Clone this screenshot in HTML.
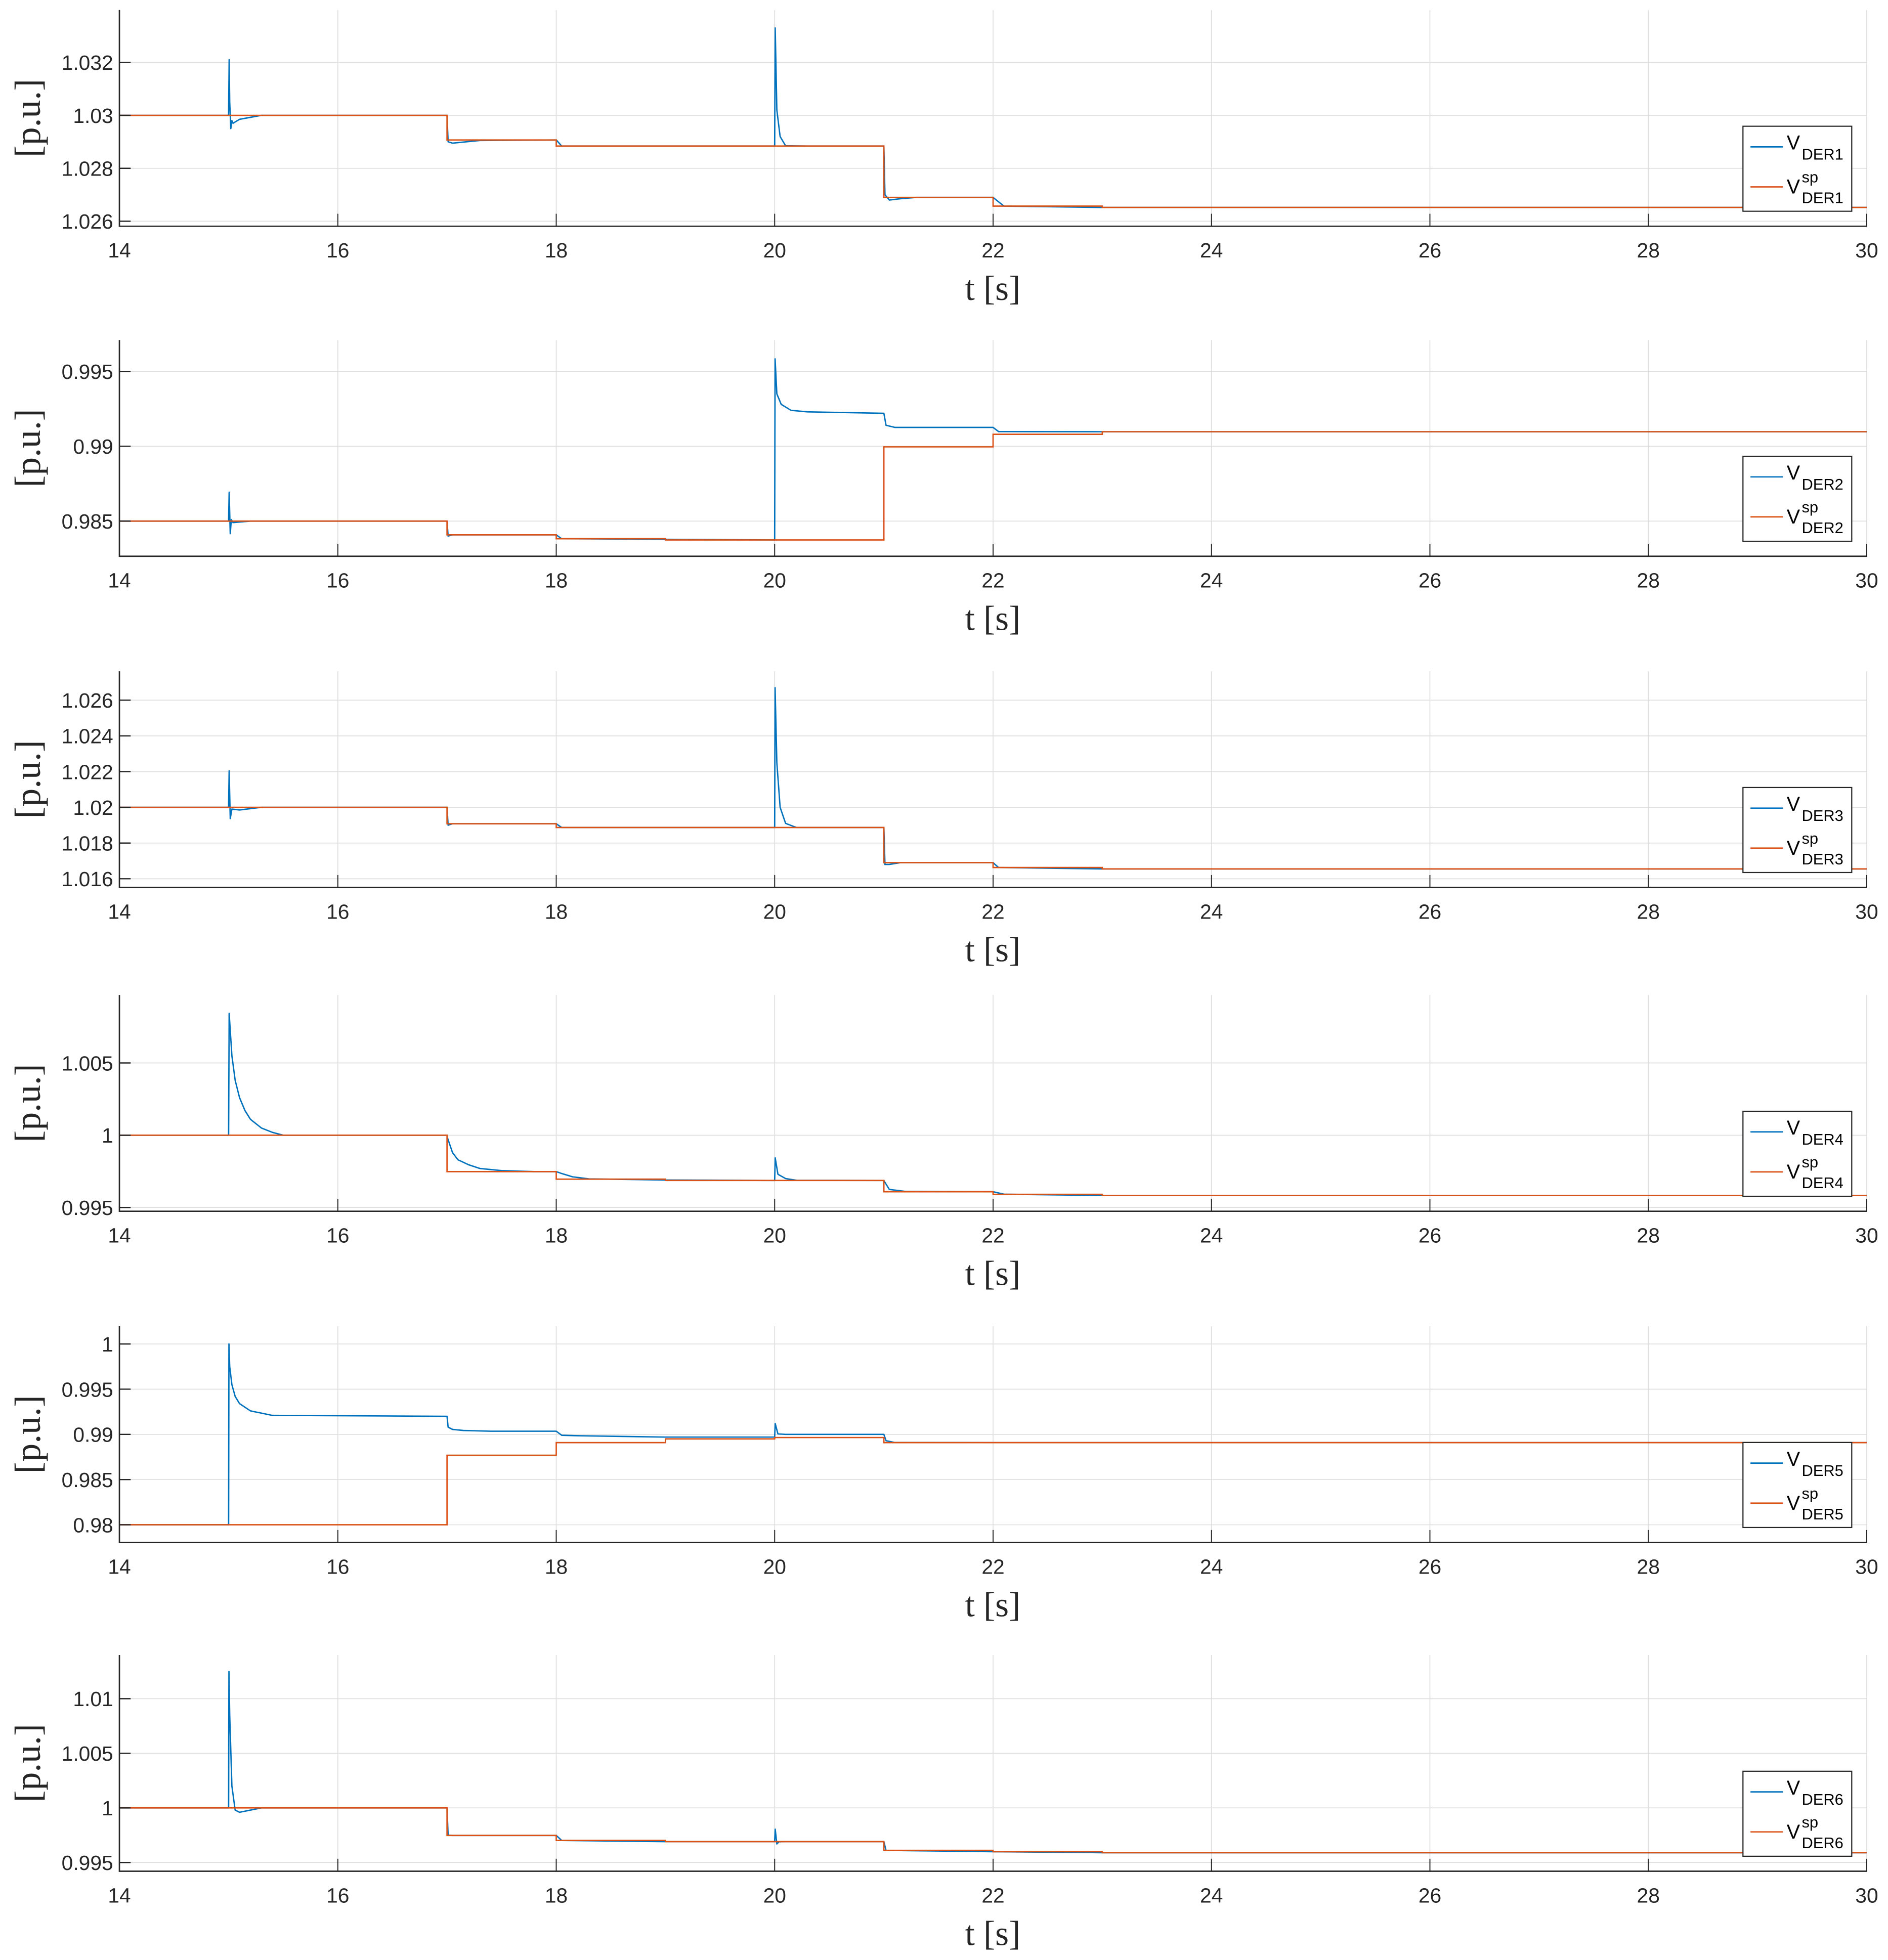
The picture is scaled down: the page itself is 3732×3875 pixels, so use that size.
<!DOCTYPE html>
<html><head><meta charset="utf-8"><style>
html,body{margin:0;padding:0;background:#fff}
svg{display:block}
</style></head><body>
<svg id="fig" xmlns="http://www.w3.org/2000/svg" width="3732" height="3875" viewBox="0 0 1510 1568" preserveAspectRatio="none"></svg>
<script>
const xTicks=[14,16,18,20,22,24,26,28,30];
const stepTimes=[14,17,18,19,20,21,22,23];
const derNames=["DER1","DER2","DER3","DER4","DER5","DER6"];
const der1Sp=[1.030,1.02907,1.02884,1.02884,1.02884,1.0269,1.02657,1.02652];
const der2Sp=[0.985,0.98408,0.98382,0.98374,0.98374,0.98996,0.9908,0.99097];
const der3Sp=[1.020,1.01908,1.01887,1.01887,1.01887,1.0169,1.01663,1.01655];
const der4Sp=[1.0,0.99748,0.99696,0.99687,0.99687,0.99609,0.99591,0.99583];
const der5Sp=[0.98,0.98769,0.98909,0.9895,0.98965,0.98909,0.98909,0.98909];
const der6Sp=[1.0,0.99748,0.99702,0.99691,0.99691,0.99611,0.99599,0.9959];
const der1T=[14,15,15.005,15.01,15.02,15.03,15.04,15.1,15.3,17,17.01,17.05,17.3,18,18.05,19,20,20.005,20.02,20.05,20.1,20.3,21,21.01,21.05,21.15,21.3,22,22.1,23,30];
const der1V=[1.030,1.030,1.0321,1.0305,1.0295,1.0298,1.0297,1.02985,1.0300,1.030,1.0290,1.02895,1.02905,1.02907,1.02884,1.02884,1.02884,1.0333,1.0302,1.0292,1.02885,1.02884,1.02884,1.0270,1.0268,1.02685,1.0269,1.0269,1.02657,1.02652,1.02652];
const der2T=[14,15,15.005,15.015,15.025,15.04,15.2,17,17.01,17.05,18,18.05,20,20.004,20.02,20.06,20.15,20.3,21,21.02,21.1,22,22.05,23,30];
const der2V=[.985,.985,.98693,.98416,.9851,.9849,.985,.985,.9840,.98408,.98408,.98382,.98374,.99584,.9935,.9928,.9924,.9923,.9922,.9914,.99126,.99126,.99098,.99097,.99097];
const der3T=[14,15,15.005,15.015,15.03,15.1,15.3,17,17.01,17.05,18,18.05,20,20.004,20.02,20.05,20.1,20.2,21,21.01,21.05,21.15,22,22.05,23,30];
const der3V=[1.020,1.020,1.02204,1.01937,1.0199,1.01985,1.020,1.020,1.0190,1.01908,1.01908,1.01887,1.01887,1.0267,1.0225,1.0200,1.0191,1.01887,1.01887,1.0168,1.0168,1.0169,1.0169,1.01663,1.01655,1.01655];
const der4T=[14,15,15.005,15.03,15.06,15.1,15.15,15.2,15.3,15.4,15.5,17,17.005,17.05,17.1,17.2,17.3,17.5,17.8,18,18.05,18.15,18.3,19,20,20.005,20.03,20.1,20.2,21,21.005,21.05,21.2,22,22.1,23,30];
const der4V=[1.0,1.0,1.00843,1.0055,1.0038,1.0026,1.0017,1.0011,1.0005,1.0002,1.0,1.0,0.9998,0.9988,0.9983,0.99795,0.9977,0.99755,0.99748,0.99748,0.99735,0.99712,0.99698,0.99690,0.99687,0.99843,0.9973,0.9970,0.99688,0.99687,0.9968,0.99625,0.99611,0.99609,0.99592,0.99583,0.99583];
const der5T=[14,15,15.003,15.01,15.03,15.06,15.1,15.2,15.4,17,17.01,17.05,17.15,17.4,18,18.05,18.2,19,20,20.005,20.03,20.1,21,21.02,21.1,22,30];
const der5V=[.98,.98,1.0,.9975,.9955,.9942,.9934,.9926,.9921,.9920,.9908,.99055,.99043,.99035,.99035,.9899,.98985,.9897,.9897,.9912,.99005,.99,.99,.9893,.9891,.98909,.98909];
const der6T=[14,15,15.003,15.01,15.03,15.06,15.1,15.2,15.3,17,17.01,17.05,18,18.05,19,20,20.005,20.02,20.04,20.1,21,21.02,22,23,30];
const der6V=[1.0,1.0,1.01248,1.0085,1.002,.9998,.9996,.9998,1.0,1.0,.9975,.99748,.99748,.99702,.99691,.99691,.99805,.9967,.9969,.99691,.99691,.99611,.99599,.9959,.9959];
const yTicks1=[1.026,1.028,1.030,1.032];const yLabels1=["1.026","1.028","1.03","1.032"];
const yTicks2=[0.985,0.99,0.995];const yLabels2=["0.985","0.99","0.995"];
const yTicks3=[1.016,1.018,1.020,1.022,1.024,1.026];const yLabels3=["1.016","1.018","1.02","1.022","1.024","1.026"];
const yTicks4=[0.995,1.0,1.005];const yLabels4=["0.995","1","1.005"];
const yTicks5=[0.98,0.985,0.99,0.995,1.0];const yLabels5=["0.98","0.985","0.99","0.995","1"];
const yTicks6=[0.995,1.0,1.005,1.01];const yLabels6=["0.995","1","1.005","1.01"];
const yMins=[1.02581,0.98265,1.01551,0.99474,0.97804,0.9942];
const yMaxs=[1.03398,0.9971,1.02762,1.0097,1.00196,1.0140];

const tops=[8,272,537,796,1061,1324];
const H=173, X0=95.5, X1=1493;
const NS="http://www.w3.org/2000/svg";
const svg=document.getElementById('fig');
function mk(tag,attrs,parent){const e=document.createElementNS(NS,tag);for(const k in attrs)e.setAttribute(k,attrs[k]);(parent||svg).appendChild(e);return e;}
const sps=[der1Sp,der2Sp,der3Sp,der4Sp,der5Sp,der6Sp];
const mts=[der1T,der2T,der3T,der4T,der5T,der6T];
const mvs=[der1V,der2V,der3V,der4V,der5V,der6V];
const yts=[yTicks1,yTicks2,yTicks3,yTicks4,yTicks5,yTicks6];
const yls=[yLabels1,yLabels2,yLabels3,yLabels4,yLabels5,yLabels6];
const xs=t=>X0+(t-14)/(30-14)*(X1-X0);
for(let p=0;p<6;p++){
  const top=tops[p],bot=top+H,ymin=yMins[p],ymax=yMaxs[p];
  const ys=v=>bot-(v-ymin)/(ymax-ymin)*H;
  const g=mk('g',{});
  
  
  xTicks.forEach(t=>{const l=mk('line',{x1:xs(t),x2:xs(t),y1:top,y2:bot,stroke:'#dfdfdf','stroke-width':0.7},g);
    });
  yts[p].forEach(v=>{const l=mk('line',{x1:X0,x2:X1,y1:ys(v),y2:ys(v),stroke:'#dfdfdf','stroke-width':0.7},g);
    });
  let d='';mts[p].forEach((t,i)=>{d+=(i?'L':'M')+xs(t).toFixed(2)+' '+ys(mvs[p][i]).toFixed(2);});
  const m=mk('path',{d:d,fill:'none',stroke:'#0072BD','stroke-width':1.1,'stroke-linejoin':'round'},g);
  
  let s='';const sv=sps[p];
  stepTimes.forEach((t,i)=>{const te=i<stepTimes.length-1?stepTimes[i+1]:30;
    s+=(i?'L':'M')+xs(t).toFixed(2)+' '+ys(sv[i]).toFixed(2)+'L'+xs(te).toFixed(2)+' '+ys(sv[i]).toFixed(2);});
  const sl=mk('path',{d:s,fill:'none',stroke:'#D95319','stroke-width':1.1},g);
  
  const ax=mk('path',{d:`M${X0} ${top}L${X0} ${bot}L${X1} ${bot}`,fill:'none',stroke:'#262626','stroke-width':1.1},g);
  
  xTicks.forEach(t=>{mk('line',{x1:xs(t),x2:xs(t),y1:bot,y2:bot-10,stroke:'#262626','stroke-width':0.8},g);
    const tx=mk('text',{x:xs(t),y:bot+25,'text-anchor':'middle','font-family':'Liberation Sans, sans-serif','font-size':16.5,fill:'#262626'},g);
    tx.textContent=t;});
  yts[p].forEach((v,i)=>{mk('line',{x1:X0,x2:X0+9,y1:ys(v),y2:ys(v),stroke:'#262626','stroke-width':1},g);
    const tx=mk('text',{x:X0-5,y:ys(v)+6,'text-anchor':'end','font-family':'Liberation Sans, sans-serif','font-size':16.5,fill:'#262626'},g);
    tx.textContent=yls[p][i];});
  const xl=mk('text',{x:794,y:bot+59,'text-anchor':'middle','font-family':'Liberation Serif, serif','font-size':28,fill:'#262626'},g);
  xl.textContent='t [s]';
  const yl=mk('text',{x:0,y:0,'text-anchor':'middle','font-family':'Liberation Serif, serif','font-size':29,fill:'#262626',transform:`translate(32 ${top+H/2}) rotate(-90)`},g);
  yl.textContent='[p.u.]';
  const lx=1394, ly=bot-12-68;
  const lg=mk('g',{},g);
  
  mk('rect',{x:lx,y:ly,width:87,height:68,fill:'#fff',stroke:'#262626','stroke-width':0.9},lg);
  mk('line',{x1:lx+6,x2:lx+32,y1:ly+16.5,y2:ly+16.5,stroke:'#0072BD','stroke-width':1.1},lg);
  mk('line',{x1:lx+6,x2:lx+32,y1:ly+48.5,y2:ly+48.5,stroke:'#D95319','stroke-width':1.1},lg);
  const f={'font-family':'Liberation Sans, sans-serif',fill:'#000'};
  let t1=mk('text',Object.assign({x:lx+35,y:ly+18.6,'font-size':16},f),lg);t1.textContent='V';
  
  let t2=mk('text',Object.assign({x:lx+47,y:ly+26.7,'font-size':12.5},f),lg);t2.textContent=derNames[p];
  let t3=mk('text',Object.assign({x:lx+35,y:ly+53.8,'font-size':16},f),lg);t3.textContent='V';
  
  let t4=mk('text',Object.assign({x:lx+47,y:ly+44.9,'font-size':12.5},f),lg);t4.textContent='sp';
  let t5=mk('text',Object.assign({x:lx+47,y:ly+61.5,'font-size':12.5},f),lg);t5.textContent=derNames[p];
}
</script>
</body></html>
